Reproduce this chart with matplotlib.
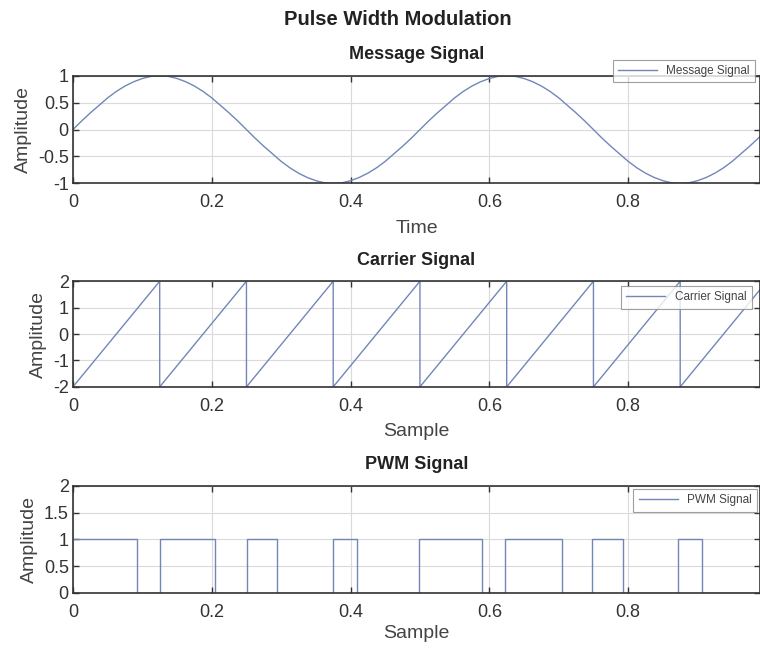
import matplotlib
matplotlib.use("Agg")
import matplotlib.pyplot as plt

# ---- data ----
msg_t = [i * 0.0125 for i in range(81)]
msg_v = [0.00, 0.16, 0.31, 0.45, 0.59, 0.71, 0.81, 0.89, 0.95, 0.99,
         1.00, 0.99, 0.95, 0.89, 0.81, 0.71, 0.59, 0.45, 0.31, 0.16,
         0.00, -0.16, -0.31, -0.45, -0.59, -0.71, -0.81, -0.89, -0.95, -0.99,
         -1.00, -0.99, -0.95, -0.89, -0.81, -0.71, -0.59, -0.45, -0.31, -0.16,
         0.00, 0.16, 0.31, 0.45, 0.59, 0.71, 0.81, 0.89, 0.95, 0.99,
         1.00, 0.99, 0.95, 0.89, 0.81, 0.71, 0.59, 0.45, 0.31, 0.16,
         0.00, -0.16, -0.31, -0.45, -0.59, -0.71, -0.81, -0.89, -0.95, -0.99,
         -1.00, -0.99, -0.95, -0.89, -0.81, -0.71, -0.59, -0.45, -0.31, -0.16,
         0.00]

car_t = [0.0, 0.125, 0.125, 0.25, 0.25, 0.375, 0.375, 0.5, 0.5, 0.625, 0.625,
         0.75, 0.75, 0.875, 0.875, 1.0]
car_v = [-2, 2, -2, 2, -2, 2, -2, 2, -2, 2, -2, 2, -2, 2, -2, 2]

pwm_t = [0.0, 0.092, 0.092, 0.125, 0.125, 0.205, 0.205, 0.251, 0.251, 0.294,
         0.294, 0.374, 0.374, 0.409, 0.409, 0.499, 0.499, 0.590, 0.590, 0.623,
         0.623, 0.704, 0.704, 0.748, 0.748, 0.793, 0.793, 0.872, 0.872, 0.907,
         0.907, 1.0]
pwm_v = [1, 1, 0, 0, 1, 1, 0, 0, 1, 1, 0, 0, 1, 1, 0, 0, 1, 1, 0, 0,
         1, 1, 0, 0, 1, 1, 0, 0, 1, 1, 0, 0]

x_ticks = [0, 0.2, 0.4, 0.6, 0.8]
x_ticklabels = ["0", "0.2", "0.4", "0.6", "0.8"]

plt.rcParams['font.family'] = ['Liberation Sans', 'DejaVu Sans']

line_col = '#7286b8'
grid_col = '#dadada'
text_col = '#333333'

fig = plt.figure(figsize=(7.6, 6.48), dpi=100)
fig.suptitle("Pulse Width Modulation", x=0.523, y=0.985, fontsize=14.5,
             fontweight='bold', color='#222222')

specs = [
    dict(pos=[0.096, 0.717, 0.904, 0.166], t=msg_t, v=msg_v, title="Message Signal",
         label="Message Signal", xlabel="Time", ylim=(-1, 1),
         yticks=[-1, -0.5, 0, 0.5, 1], yl=["-1", "-0.5", "0", "0.5", "1"],
         leg=(0.993, 1.15), lp=6),
    dict(pos=[0.096, 0.403, 0.904, 0.163], t=car_t, v=car_v, title="Carrier Signal",
         label="Carrier Signal", xlabel="Sample", ylim=(-2, 2),
         yticks=[-2, -1, 0, 1, 2], yl=["-2", "-1", "0", "1", "2"],
         leg=(0.988, 0.955), lp=6),
    dict(pos=[0.096, 0.085, 0.904, 0.165], t=pwm_t, v=pwm_v, title="PWM Signal",
         label="PWM Signal", xlabel="Sample", ylim=(0, 2),
         yticks=[0, 0.5, 1, 1.5, 2], yl=["0", "0.5", "1", "1.5", "2"],
         leg=(0.996, 0.972), lp=3),
]

for s in specs:
    ax = fig.add_axes(s['pos'])
    ax.plot(s['t'], s['v'], color=line_col, lw=1.0, label=s['label'])
    ax.set_xlim(0, 0.99)
    ax.set_ylim(*s['ylim'])
    ax.set_xticks(x_ticks)
    ax.set_xticklabels(x_ticklabels)
    ax.set_yticks(s['yticks'])
    ax.set_yticklabels(s['yl'])
    ax.grid(True, color=grid_col, lw=0.8)
    ax.set_axisbelow(True)
    ax.tick_params(direction='in', top=True, right=True, labelsize=13,
                   colors=text_col, length=4, width=1)
    ax.tick_params(axis='x', pad=8)
    ax.tick_params(axis='y', pad=3)
    for sp in ax.spines.values():
        sp.set_color('#333333')
        sp.set_linewidth(1.2)
    ax.set_title(s['title'], fontsize=13, fontweight='bold', color='#222222', pad=12)
    ax.set_xlabel(s['xlabel'], fontsize=14, color='#444444', labelpad=s['lp'])
    ax.set_ylabel("Amplitude", fontsize=14, color='#444444', labelpad=4)
    leg = ax.legend(loc='upper right', bbox_to_anchor=s['leg'], fontsize=8.5,
                    frameon=True, fancybox=False, edgecolor='#888888',
                    handlelength=3.3, borderpad=0.45, borderaxespad=0)
    leg.get_frame().set_linewidth(0.8)
    for txt in leg.get_texts():
        txt.set_color('#444444')

fig.savefig("out.png", dpi=100)
